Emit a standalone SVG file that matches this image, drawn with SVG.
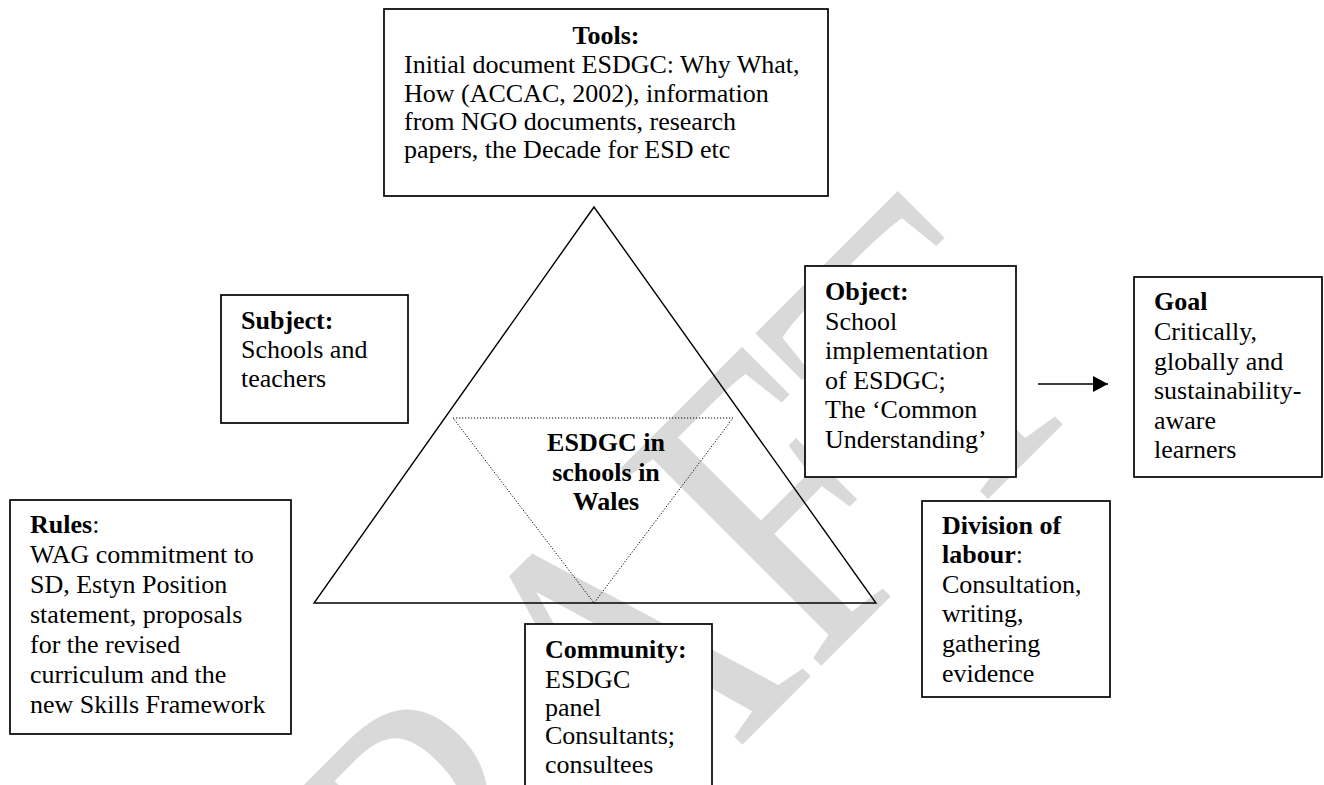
<svg xmlns="http://www.w3.org/2000/svg" width="1324" height="785" viewBox="0 0 1324 785">
<defs>
<style>
.t{font-family:"Liberation Serif","Times New Roman",serif;font-size:26px;fill:#000}
.b{font-weight:bold}
.box{fill:#fff;stroke:#000;stroke-width:1.7}
.tri{fill:none;stroke:#000;stroke-width:1.4}
.dot{fill:none;stroke:#000;stroke-width:1;stroke-dasharray:1.2 1.8}
.wm{font-family:"Liberation Serif","Times New Roman",serif;font-size:430px;fill:#d9d9d9}
</style>
<marker id="ah" markerWidth="16" markerHeight="16" refX="15" refY="8" orient="auto" markerUnits="userSpaceOnUse">
<path d="M0,0 L15,8 L0,16 Z" fill="#000"/>
</marker>
</defs>
<rect x="0" y="0" width="1324" height="785" fill="#fff"/>
<text class="wm" x="0" y="0" text-anchor="end" transform="translate(1101,386) rotate(-45) scale(0.813,1)">DRAFT</text>

<g id="activity-triangle">
<polygon class="tri" points="594,207 314,603 876,603"/>
<polygon class="dot" points="453,418 733,418 594,603"/>
</g>

<g id="connectors">
<line x1="1038" y1="384" x2="1108" y2="384" stroke="#000" stroke-width="1.6" marker-end="url(#ah)"/>
</g>

<g id="tools">
<rect class="box" x="384" y="9" width="444" height="187"/>
<text class="t b" x="606" y="44" text-anchor="middle">Tools:</text>
<text class="t" x="404" y="73">Initial document ESDGC: Why What,</text>
<text class="t" x="404" y="101.5">How (ACCAC, 2002), information</text>
<text class="t" x="404" y="129.8">from NGO documents, research</text>
<text class="t" x="404" y="158">papers, the Decade for ESD etc</text>
</g>

<g id="subject">
<rect class="box" x="221" y="295" width="187" height="128"/>
<text class="t b" x="241" y="329">Subject:</text>
<text class="t" x="241" y="358">Schools and</text>
<text class="t" x="241" y="387">teachers</text>
</g>

<g id="center">
<text class="t b" x="606" y="451" text-anchor="middle">ESDGC in</text>
<text class="t b" x="606" y="481" text-anchor="middle">schools in</text>
<text class="t b" x="606" y="510" text-anchor="middle">Wales</text>
</g>

<g id="object">
<rect class="box" x="805" y="266" width="211" height="211"/>
<text class="t b" x="825" y="300">Object:</text>
<text class="t" x="825" y="330">School</text>
<text class="t" x="825" y="359">implementation</text>
<text class="t" x="825" y="389">of ESDGC;</text>
<text class="t" x="825" y="418">The ‘Common</text>
<text class="t" x="825" y="448">Understanding’</text>
</g>

<g id="goal">
<rect class="box" x="1134" y="277" width="188" height="200"/>
<text class="t b" x="1154" y="310">Goal</text>
<text class="t" x="1154" y="340">Critically,</text>
<text class="t" x="1154" y="369.5">globally and</text>
<text class="t" x="1154" y="399">sustainability-</text>
<text class="t" x="1154" y="428.5">aware</text>
<text class="t" x="1154" y="458">learners</text>
</g>

<g id="rules">
<rect class="box" x="10" y="500" width="281" height="234"/>
<text class="t" x="30" y="533"><tspan class="b">Rules</tspan>:</text>
<text class="t" x="30" y="563">WAG commitment to</text>
<text class="t" x="30" y="593">SD, Estyn Position</text>
<text class="t" x="30" y="623">statement, proposals</text>
<text class="t" x="30" y="653">for the revised</text>
<text class="t" x="30" y="683">curriculum and the</text>
<text class="t" x="30" y="713">new Skills Framework</text>
</g>

<g id="division">
<rect class="box" x="922" y="501" width="188" height="196"/>
<text class="t b" x="942" y="534">Division of</text>
<text class="t" x="942" y="563"><tspan class="b">labour</tspan>:</text>
<text class="t" x="942" y="593">Consultation,</text>
<text class="t" x="942" y="622">writing,</text>
<text class="t" x="942" y="652">gathering</text>
<text class="t" x="942" y="682">evidence</text>
</g>

<g id="community">
<rect class="box" x="525" y="624" width="187" height="200"/>
<text class="t b" x="545" y="658">Community:</text>
<text class="t" x="545" y="688">ESDGC</text>
<text class="t" x="545" y="716">panel</text>
<text class="t" x="545" y="744">Consultants;</text>
<text class="t" x="545" y="773">consultees</text>
</g>
</svg>
